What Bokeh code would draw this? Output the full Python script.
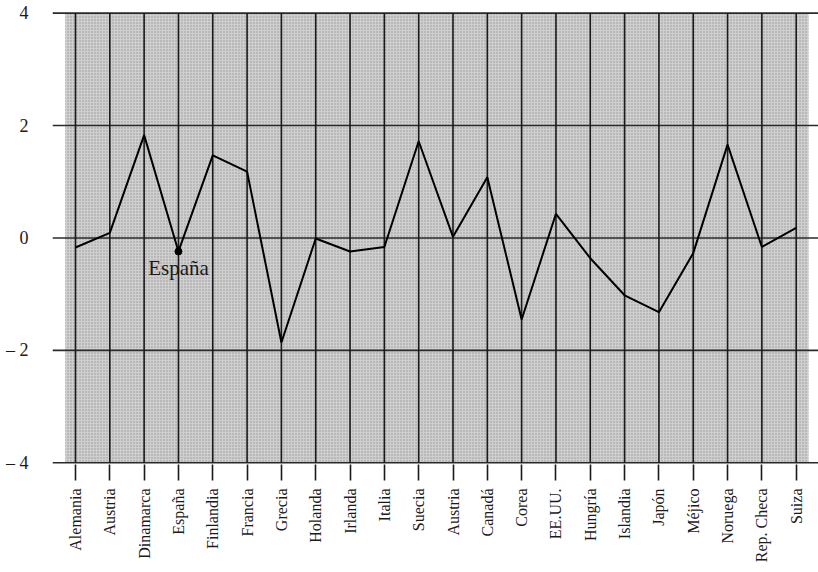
import math
from bokeh.plotting import figure
from bokeh.models import Range1d, FixedTicker
from bokeh.core.properties import value
from bokeh.embed import file_html
from bokeh.resources import INLINE

countries = ["Alemania", "Austria", "Dinamarca", "España", "Finlandia", "Francia",
             "Grecia", "Holanda", "Irlanda", "Italia", "Suecia", "Austria", "Canadá",
             "Corea", "EE.UU.", "Hungría", "Islandia", "Japón", "Méjico", "Noruega",
             "Rep. Checa", "Suiza"]
values = [-0.17, 0.09, 1.83, -0.24, 1.47, 1.18, -1.86, -0.01, -0.24, -0.16, 1.72,
          0.02, 1.08, -1.45, 0.43, -0.36, -1.02, -1.32, -0.27, 1.66, -0.16, 0.18]
y_ticks = [-4, -2, 0, 2, 4]
y_labels = {-4: "– 4", -2: "– 2", 0: "0", 2: "2", 4: "4"}
highlight = "España"

xs = list(range(len(countries)))
FONT = "Liberation Serif"

p = figure(width=818, height=572,
           x_range=Range1d(-0.67, len(xs) - 1 + 0.65),
           y_range=Range1d(-4.03, 4.1),
           output_backend="svg", toolbar_location=None,
           min_border_left=52, min_border_right=0, min_border_top=7, min_border_bottom=108)
p.outline_line_color = None
p.xgrid.grid_line_color = None
p.ygrid.grid_line_color = None

# stippled background panel
p.quad(left=-0.3, right=len(xs) - 1 + 0.36, bottom=y_ticks[0], top=y_ticks[-1],
       fill_color="#cfcfcf", line_color=None,
       hatch_pattern="dot", hatch_color="#969696", hatch_scale=3, hatch_weight=1)

# horizontal rules
p.segment(x0=[p.x_range.start] * len(y_ticks), x1=[p.x_range.end] * len(y_ticks),
          y0=y_ticks, y1=y_ticks, line_color="#2a2a2a", line_width=1.6)
# vertical rules
p.segment(x0=xs, x1=xs, y0=[y_ticks[0]] * len(xs), y1=[y_ticks[-1]] * len(xs),
          line_color="#1a1a1a", line_width=1.6)

p.line(xs, values, line_color="black", line_width=2)

hi = countries.index(highlight)
p.scatter([hi], [values[hi]], size=7, color="black")
p.text([hi], [values[hi]], text=[highlight], text_align="center", text_baseline="top",
       y_offset=5, text_font=value(FONT), text_font_size="21px", text_color="#1a1a1a")

# x axis
p.xaxis.ticker = FixedTicker(ticks=xs)
p.xaxis.major_label_overrides = {i: c for i, c in enumerate(countries)}
p.xaxis.major_label_orientation = math.pi / 2
p.xaxis.axis_line_color = None
p.xaxis.major_tick_in = 0
p.xaxis.major_tick_out = 16
p.xaxis.major_tick_line_color = "#1a1a1a"
p.xaxis.major_tick_line_width = 1.6
p.xaxis.minor_tick_line_color = None
p.xaxis.major_label_standoff = 8
p.xaxis.major_label_text_font = FONT
p.xaxis.major_label_text_font_size = "16px"
p.xaxis.major_label_text_color = "#1a1a1a"

# y axis
p.yaxis.ticker = FixedTicker(ticks=y_ticks)
p.yaxis.major_label_overrides = y_labels
p.yaxis.axis_line_color = None
p.yaxis.major_tick_line_color = None
p.yaxis.minor_tick_line_color = None
p.yaxis.major_label_standoff = 18
p.yaxis.major_label_text_font = FONT
p.yaxis.major_label_text_font_size = "18px"
p.yaxis.major_label_text_color = "#1a1a1a"

open("out.html", "w").write(file_html(p, INLINE))
